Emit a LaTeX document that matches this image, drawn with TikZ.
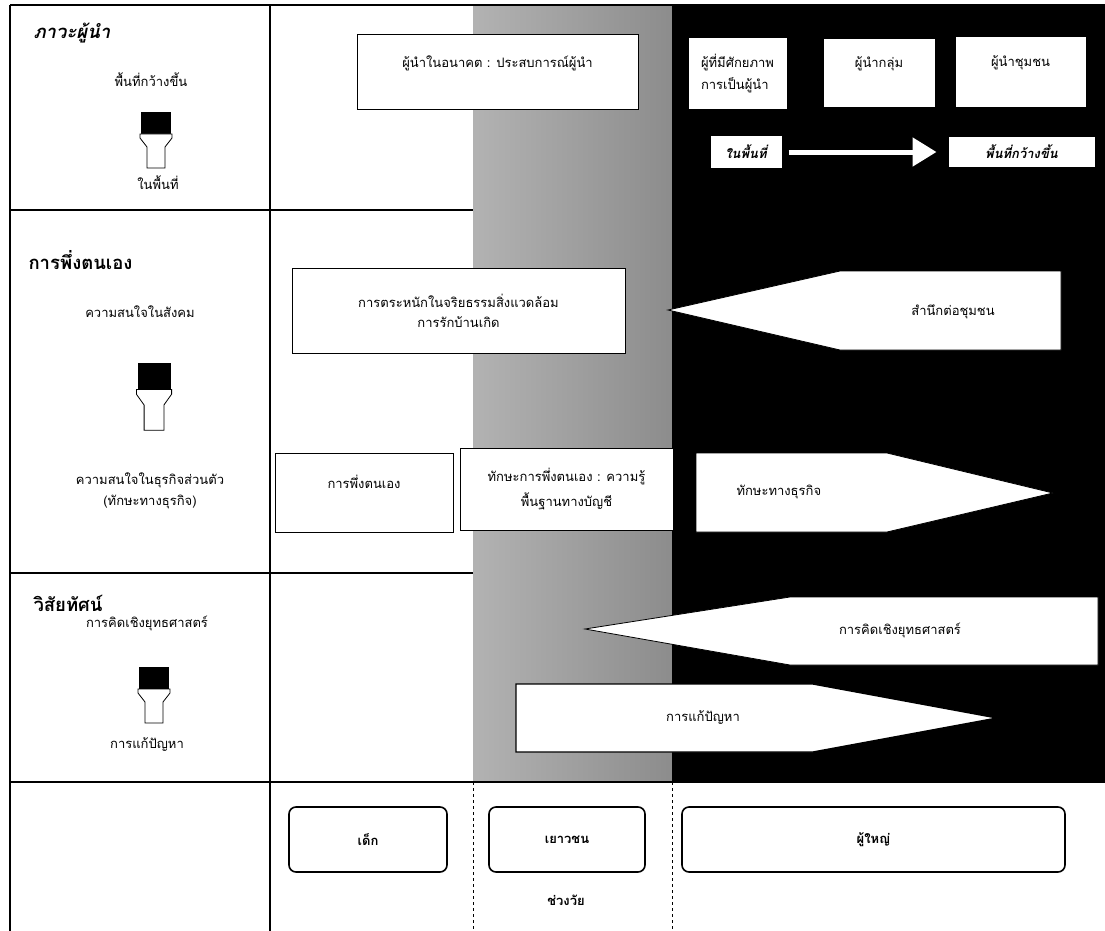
\documentclass[tikz,border=0pt]{standalone}
\usepackage{fontspec}
\newfontfamily\thaifont[Script=Thai]{Loma}
\usetikzlibrary{arrows.meta,positioning}
\tikzset{
  cellline/.style={line width=1.2pt},
  box/.style={rectangle, draw, fill=white, line width=1pt, align=center, inner sep=2pt},
  agebox/.style={rectangle, draw, fill=white, rounded corners=7pt, line width=1.6pt, font=\thaifont\fontsize{13}{16}\selectfont\bfseries},
  flag/.style={draw, fill=white, line width=0.8pt},
  head/.style={font=\thaifont\fontsize{18.5}{22}\selectfont\bfseries, anchor=west},
  txt/.style={align=center},
  boldit/.style={font=\thaifont\fontsize{13}{16}\selectfont\bfseries\itshape},
  risearrow/.pic={
    \fill[black] (-15,0) rectangle (15,22);
    \draw[fill=white, line width=0.8pt] (-16,22) -- (16,22) -- (16,26) -- (9,35) -- (9,56) -- (-9,56) -- (-9,35) -- (-16,26) -- cycle;
  }
}
\begin{document}
\begin{tikzpicture}[x=1pt, y=-1pt, font=\thaifont\fontsize{13}{16}\selectfont]
  \useasboundingbox (0,0) rectangle (1105,931);
  % age bands
  \shade[left color=black!30, right color=black!45] (473,5) rectangle (672,782);
  \fill[black] (672,5) rectangle (1105,782);
  % table lines
  \draw[cellline] (10,5) -- (1105,5);
  \draw[cellline] (10,5) -- (10,931);
  \draw[cellline] (270,5) -- (270,931);
  \draw[cellline] (10,210) -- (473,210);
  \draw[cellline] (10,573) -- (473,573);
  \draw[cellline] (10,782) -- (1105,782);
  \draw[dashed, thin] (473,782) -- (473,931);
  \draw[dashed, thin] (672,782) -- (672,931);

  % leadership
  \node[head] (leadH) at (30,33) {\itshape ภาวะผู้นำ};
  \node[txt] (wideL) at (151,80) {พื้นที่กว้างขึ้น};
  \pic at (156,112) {risearrow};
  \node[txt] (localL) at (158,183) {ในพื้นที่};
  \node[box, minimum width=281, minimum height=75, text depth=22pt] (future) at (497.5,72.5) {ผู้นำในอนาคต : ประสบการณ์ผู้นำ};
  \node[box, minimum width=99, minimum height=72, align=left] (potential) at (737.5,74) {ผู้ที่มีศักยภาพ\\[6pt]การเป็นผู้นำ};
  \node[box, minimum width=112, minimum height=69, text depth=22pt] (groupL) at (879,73.5) {ผู้นำกลุ่ม};
  \node[box, minimum width=131, minimum height=71, text depth=22pt] (commL) at (1020.5,72.5) {ผู้นำชุมชน};
  \node[box, boldit, minimum width=72, minimum height=32] (inArea) at (746,152) {ในพื้นที่};
  \node[box, boldit, minimum width=147, minimum height=30] (widerArea) at (1021.5,152) {พื้นที่กว้างขึ้น};
  \draw[white, line width=5pt, -{Triangle[length=24pt, width=28pt]}, shorten <=6pt, shorten >=11pt] (inArea) -- (widerArea);

  % self reliance
  \node[head] (selfH) at (25,260) {การพึ่งตนเอง};
  \node[txt] (socialL) at (140,312) {ความสนใจในสังคม};
  \pic[xscale=1.1, yscale=1.2] at (154,363) {risearrow};
  \node[txt] (bizL) at (150,491) {ความสนใจในธุรกิจส่วนตัว\\[5pt](ทักษะทางธุรกิจ)};
  \node[box, minimum width=333, minimum height=85] (aware) at (458.5,310.5) {การตระหนักในจริยธรรมสิ่งแวดล้อม\\[4pt]การรักบ้านเกิด};
  \draw[flag] (668,310) -- (840,271) -- (1061,271) -- (1061,350) -- (840,350) -- cycle;
  \node[txt] (commSense) at (953,312) {สำนึกต่อชุมชน};
  \node[box, minimum width=178, minimum height=79, text depth=22pt] (selfRely) at (364,492.5) {การพึ่งตนเอง};
  \node[box, minimum width=213, minimum height=82] (selfSkill) at (566.5,489) {ทักษะการพึ่งตนเอง : ความรู้\\[6pt]พื้นฐานทางบัญชี};
  \draw[flag] (696,453) -- (887,453) -- (1053,493) -- (887,532) -- (696,532) -- cycle;
  \node[txt, anchor=west] (bizSkill) at (733,492) {ทักษะทางธุรกิจ};

  % vision
  \node[head] (visionH) at (30,603) {วิสัยทัศน์};
  \node[txt] (stratL) at (147,623) {การคิดเชิงยุทธศาสตร์};
  \pic at (154,667) {risearrow};
  \node[txt] (solveL) at (147,745) {การแก้ปัญหา};
  \draw[flag] (585,629) -- (790,597) -- (1098,597) -- (1098,665) -- (790,665) -- cycle;
  \node[txt] (strat) at (900,630) {การคิดเชิงยุทธศาสตร์};
  \draw[flag, line width=1.4pt] (516,684) -- (813,684) -- (997,718) -- (813,752) -- (516,752) -- cycle;
  \node[txt] (solve) at (703,718) {การแก้ปัญหา};

  % age groups
  \node[agebox, minimum width=158, minimum height=65] (child) at (368,839.5) {เด็ก};
  \node[agebox, minimum width=156, minimum height=65] (youth) at (567,839.5) {เยาวชน};
  \node[agebox, minimum width=383, minimum height=65] (adult) at (873.5,839.5) {ผู้ใหญ่};
  \node[txt, font=\thaifont\fontsize{13}{16}\selectfont\bfseries] (ageL) at (566,900) {ช่วงวัย};
\end{tikzpicture}
\end{document}
